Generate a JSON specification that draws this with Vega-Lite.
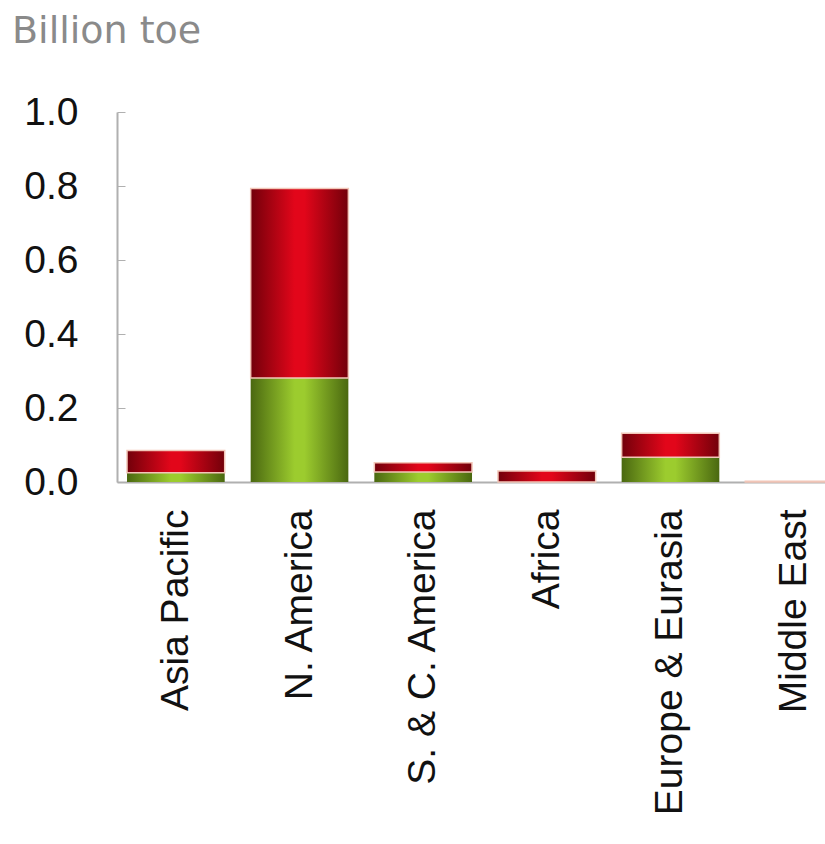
{
  "$schema": "https://vega.github.io/schema/vega-lite/v6.json",
  "autosize": "none",
  "width": 708,
  "height": 370,
  "padding": {"left": 117, "top": 112, "right": 0, "bottom": 362},
  "background": "white",
  "title": {
    "text": "Billion toe",
    "anchor": "start",
    "frame": "group",
    "dx": -105,
    "offset": 42,
    "font": "DejaVu Sans",
    "fontSize": 38,
    "fontWeight": "normal",
    "color": "#8a8a8a"
  },
  "config": {
    "view": {"stroke": null},
    "font": "Liberation Sans"
  },
  "data": {
    "values": [
      {"region": "Asia Pacific", "series": "green", "value": 0.025},
      {"region": "Asia Pacific", "series": "red", "value": 0.060},
      {"region": "N. America", "series": "green", "value": 0.281},
      {"region": "N. America", "series": "red", "value": 0.512},
      {"region": "S. & C. America", "series": "green", "value": 0.027},
      {"region": "S. & C. America", "series": "red", "value": 0.025},
      {"region": "Africa", "series": "green", "value": 0.0},
      {"region": "Africa", "series": "red", "value": 0.030},
      {"region": "Europe & Eurasia", "series": "green", "value": 0.067},
      {"region": "Europe & Eurasia", "series": "red", "value": 0.065},
      {"region": "Middle East", "series": "green", "value": 0.0},
      {"region": "Middle East", "series": "red", "value": 0.002}
    ]
  },
  "transform": [
    {"stack": "value", "groupby": ["region"], "sort": [{"field": "series", "order": "ascending"}], "as": ["v0", "v1"]}
  ],
  "encoding": {
    "x": {
      "field": "region",
      "type": "nominal",
      "sort": ["Asia Pacific", "N. America", "S. & C. America", "Africa", "Europe & Eurasia", "Middle East"],
      "scale": {"range": [0, 736], "paddingInner": 0.21, "paddingOuter": 0.081},
      "axis": {
        "title": null,
        "labelAngle": -90,
        "labelAlign": "right",
        "labelBaseline": "middle",
        "labelFont": "Liberation Sans",
        "labelFontSize": 39,
        "labelColor": "#111111",
        "labelPadding": 27,
        "ticks": false,
        "domainColor": "#b0b0b0",
        "domainWidth": 2,
        "labelLimit": 0
      }
    },
    "y": {
      "field": "v0",
      "type": "quantitative",
      "scale": {"domain": [0, 1], "nice": false},
      "axis": {
        "title": null,
        "values": [0, 0.2, 0.4, 0.6, 0.8, 1.0],
        "format": ".1f",
        "grid": false,
        "labelFont": "Liberation Sans",
        "labelFontSize": 39,
        "labelColor": "#111111",
        "labelPadding": 47,
        "tickSize": -8,
        "tickColor": "#b0b0b0",
        "domainColor": "#b0b0b0",
        "domainWidth": 2
      }
    },
    "y2": {"field": "v1"}
  },
  "layer": [
    {
      "transform": [{"filter": "datum.series === 'green'"}],
      "mark": {
        "type": "bar",
        "color": {
          "gradient": "linear", "x1": 0, "x2": 1, "y1": 0, "y2": 0,
          "stops": [
            {"offset": 0, "color": "#4a6810"},
            {"offset": 0.45, "color": "#9ccc2e"},
            {"offset": 0.55, "color": "#9ccc2e"},
            {"offset": 1, "color": "#4a6810"}
          ]
        }
      }
    },
    {
      "transform": [{"filter": "datum.series === 'red'"}],
      "mark": {
        "type": "bar",
        "stroke": "#f2c6b8",
        "strokeWidth": 1.5,
        "color": {
          "gradient": "linear", "x1": 0, "x2": 1, "y1": 0, "y2": 0,
          "stops": [
            {"offset": 0, "color": "#72000a"},
            {"offset": 0.45, "color": "#e2061a"},
            {"offset": 0.55, "color": "#e2061a"},
            {"offset": 1, "color": "#72000a"}
          ]
        }
      }
    }
  ]
}
